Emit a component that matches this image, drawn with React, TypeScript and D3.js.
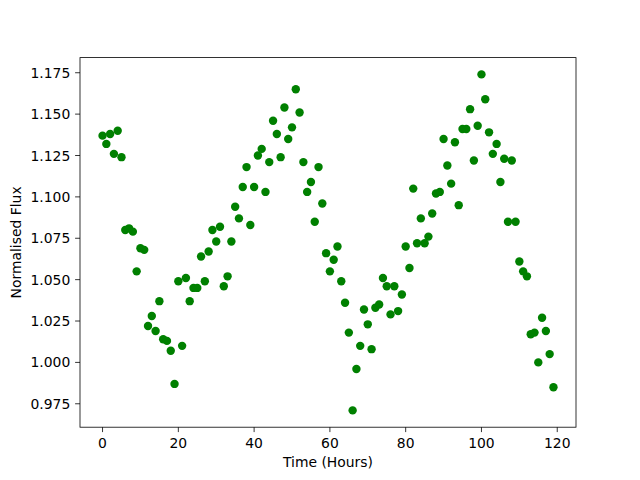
import { useEffect, useRef } from 'react';
import * as d3 from 'd3';

// hours 0..119, one reading per hour
const hours = d3.range(0, 120);
const flux = [
  1.137, 1.132, 1.138, 1.126, 1.140, 1.124, 1.080, 1.081, 1.079, 1.055,
  1.069, 1.068, 1.022, 1.028, 1.019, 1.037, 1.014, 1.013, 1.007, 0.987,
  1.049, 1.010, 1.051, 1.037, 1.045, 1.045, 1.064, 1.049, 1.067, 1.080,
  1.073, 1.082, 1.046, 1.052, 1.073, 1.094, 1.087, 1.106, 1.118, 1.083,
  1.106, 1.125, 1.129, 1.103, 1.121, 1.146, 1.138, 1.124, 1.154, 1.135,
  1.142, 1.165, 1.151, 1.121, 1.103, 1.109, 1.085, 1.118, 1.096, 1.066,
  1.055, 1.062, 1.070, 1.049, 1.036, 1.018, 0.971, 0.996, 1.010, 1.032,
  1.023, 1.008, 1.033, 1.035, 1.051, 1.046, 1.029, 1.046, 1.031, 1.041,
  1.070, 1.057, 1.105, 1.072, 1.087, 1.072, 1.076, 1.090, 1.102, 1.103,
  1.135, 1.119, 1.108, 1.133, 1.095, 1.141, 1.141, 1.153, 1.122, 1.143,
  1.174, 1.159, 1.139, 1.126, 1.132, 1.109, 1.123, 1.085, 1.122, 1.085,
  1.061, 1.055, 1.052, 1.017, 1.018, 1.000, 1.027, 1.019, 1.005, 0.985,
];
const xTicks = [0, 20, 40, 60, 80, 100, 120];
const yTicks = [0.975, 1.0, 1.025, 1.05, 1.075, 1.1, 1.125, 1.15, 1.175];

const App = () => {
  const svgRef = useRef<SVGSVGElement>(null);

  useEffect(() => {
    document.body.style.margin = '0';
    if (!svgRef.current) return;

    const svg = d3.select(svgRef.current);
    svg.selectAll('*').remove();

    const left = 80;
    const right = 576;
    const top = 57.6;
    const bottom = 427.2;
    const font = 'DejaVu Sans, sans-serif';

    // matplotlib style 5% margins
    const [xMin, xMax] = d3.extent(hours) as [number, number];
    const [yMin, yMax] = d3.extent(flux) as [number, number];
    const xPad = (xMax - xMin) * 0.05;
    const yPad = (yMax - yMin) * 0.05;

    const xScale = d3.scaleLinear()
      .domain([xMin - xPad, xMax + xPad])
      .range([left, right]);
    const yScale = d3.scaleLinear()
      .domain([yMin - yPad, yMax + yPad])
      .range([bottom, top]);

    // points
    svg.append('g')
      .selectAll('circle')
      .data(hours)
      .join('circle')
      .attr('cx', (d) => xScale(d))
      .attr('cy', (d, i) => yScale(flux[i]))
      .attr('r', 4.2)
      .attr('fill', '#008000');

    // frame
    svg.append('rect')
      .attr('x', left)
      .attr('y', top)
      .attr('width', right - left)
      .attr('height', bottom - top)
      .attr('fill', 'none')
      .attr('stroke', 'black')
      .attr('stroke-width', 0.8);

    // x ticks
    xTicks.forEach((t) => {
      const x = xScale(t);
      svg.append('line')
        .attr('x1', x).attr('x2', x)
        .attr('y1', bottom).attr('y2', bottom + 4.9)
        .attr('stroke', 'black').attr('stroke-width', 0.8);
      svg.append('text')
        .attr('x', x)
        .attr('y', bottom + 20.5)
        .attr('text-anchor', 'middle')
        .attr('font-family', font)
        .attr('font-size', '13.9px')
        .text(String(t));
    });

    // y ticks
    yTicks.forEach((t) => {
      const y = yScale(t);
      svg.append('line')
        .attr('x1', left - 4.9).attr('x2', left)
        .attr('y1', y).attr('y2', y)
        .attr('stroke', 'black').attr('stroke-width', 0.8);
      svg.append('text')
        .attr('x', left - 9.7)
        .attr('y', y)
        .attr('text-anchor', 'end')
        .attr('dominant-baseline', 'central')
        .attr('font-family', font)
        .attr('font-size', '13.9px')
        .text(d3.format('.3f')(t));
    });

    // axis labels
    svg.append('text')
      .attr('x', (left + right) / 2)
      .attr('y', 467)
      .attr('text-anchor', 'middle')
      .attr('font-family', font)
      .attr('font-size', '13.9px')
      .text('Time (Hours)');

    svg.append('text')
      .attr('transform', `translate(21,${(top + bottom) / 2}) rotate(-90)`)
      .attr('text-anchor', 'middle')
      .attr('font-family', font)
      .attr('font-size', '13.9px')
      .text('Normalised Flux');
  }, []);

  return <svg ref={svgRef} width="640" height="480" style={{ display: 'block' }} />;
};

export default App;
